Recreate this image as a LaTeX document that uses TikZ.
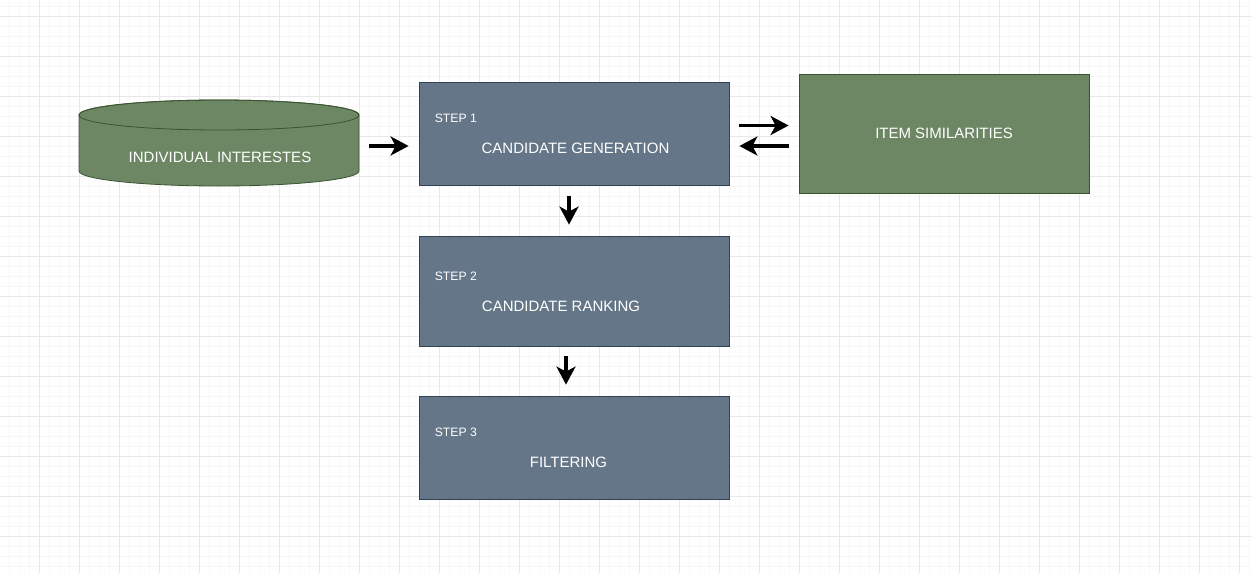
\documentclass[tikz,border=0pt]{standalone}
\usepackage{fontspec}
\setmainfont{Liberation Sans}
\usetikzlibrary{arrows.meta,calc}
\definecolor{stepfill}{HTML}{647687}
\definecolor{stepline}{HTML}{314354}
\definecolor{leaffill}{HTML}{6D8764}
\definecolor{leafline}{HTML}{3A5431}
\definecolor{minorgrid}{HTML}{F7F7F7}
\definecolor{majorgrid}{HTML}{E8E8E8}

\begin{document}
\begin{tikzpicture}[x=1pt,y=-1pt,
	stepbox/.style={draw=stepline,fill=stepfill,line width=0.8pt,minimum width=310,inner sep=0pt},
	leafbox/.style={draw=leafline,fill=leaffill,line width=0.8pt,inner sep=0pt},
	boxtext/.style={text=white,inner sep=0pt,font=\fontsize{15}{17}\selectfont},
	steptag/.style={text=white,inner sep=0pt,anchor=west,font=\fontsize{12.2}{14}\selectfont},
	arr/.style={line width=3.8pt,-{Stealth[length=18pt,width=19pt,inset=5pt]}}]
					\useasboundingbox[fill=white] (0,0) rectangle (1252,573);
					%GRID
					\foreach \x in {9,19,...,1249} \draw[minorgrid,line width=1pt] (\x,0) -- (\x,573);
					\foreach \y in {6,16,...,566} \draw[minorgrid,line width=1pt] (0,\y) -- (1252,\y);
					\foreach \x in {39,79,...,1239} \draw[majorgrid,line width=1pt] (\x,0) -- (\x,573);
					\foreach \y in {16,56,...,536} \draw[majorgrid,line width=1pt] (0,\y) -- (1252,\y);
					%CYLINDER
					\node[minimum width=280,minimum height=87,inner sep=0pt] (interests) at (219,143.5) {};
					\filldraw[draw=leafline,fill=leaffill,line width=0.8pt] (79,115) -- (79,171) arc[start angle=180,end angle=0,x radius=140,y radius=15] -- (359,115) arc[start angle=0,end angle=-180,x radius=140,y radius=15] -- cycle;
					\draw[leafline,line width=0.8pt] (219,115) ellipse[x radius=140,y radius=15];
					\node[boxtext] (interestslabel) at (220,157) {INDIVIDUAL INTERESTES};
					%STEPS
					\node[stepbox,minimum height=103] (gen) at (574,133.5) {};
					\node[stepbox,minimum height=110] (rank) at (574,291) {};
					\node[stepbox,minimum height=103] (filt) at (574,447.5) {};
					\node[steptag] (gentag) at ([xshift=16pt,yshift=15pt]gen.west) {STEP 1};
					\node[steptag] (ranktag) at ([xshift=16pt,yshift=15pt]rank.west) {STEP 2};
					\node[steptag] (filttag) at ([xshift=16pt,yshift=15pt]filt.west) {STEP 3};
					\node[boxtext] (genlabel) at ([xshift=1.5pt,yshift=-15pt]gen.center) {CANDIDATE GENERATION};
					\node[boxtext] (ranklabel) at ([xshift=-13pt,yshift=-15pt]rank.center) {CANDIDATE RANKING};
					\node[boxtext] (filtlabel) at ([xshift=-5.5pt,yshift=-14.5pt]filt.center) {FILTERING};
					%SIMILARITIES
					\node[leafbox,minimum width=290,minimum height=119.5,boxtext] (sim) at (944,133.75) {ITEM SIMILARITIES};
					%ARROWS
					\draw[arr] ([xshift=10pt]interests.east |- 0,146) -- ([xshift=-10pt]gen.west |- 0,146);
					\draw[arr] ([xshift=10pt]gen.east |- 0,125.5) -- ([xshift=-10pt]sim.west |- 0,125.5);
					\draw[arr] ([xshift=-10pt]sim.west |- 0,146) -- ([xshift=10pt]gen.east |- 0,146);
					\draw[arr] ([yshift=-11pt]gen.south -| 569,0) -- ([yshift=11pt]rank.north -| 569,0);
					\draw[arr] ([yshift=-10pt]rank.south -| 566,0) -- ([yshift=11pt]filt.north -| 566,0);
	  \end{tikzpicture}
\end{document}
